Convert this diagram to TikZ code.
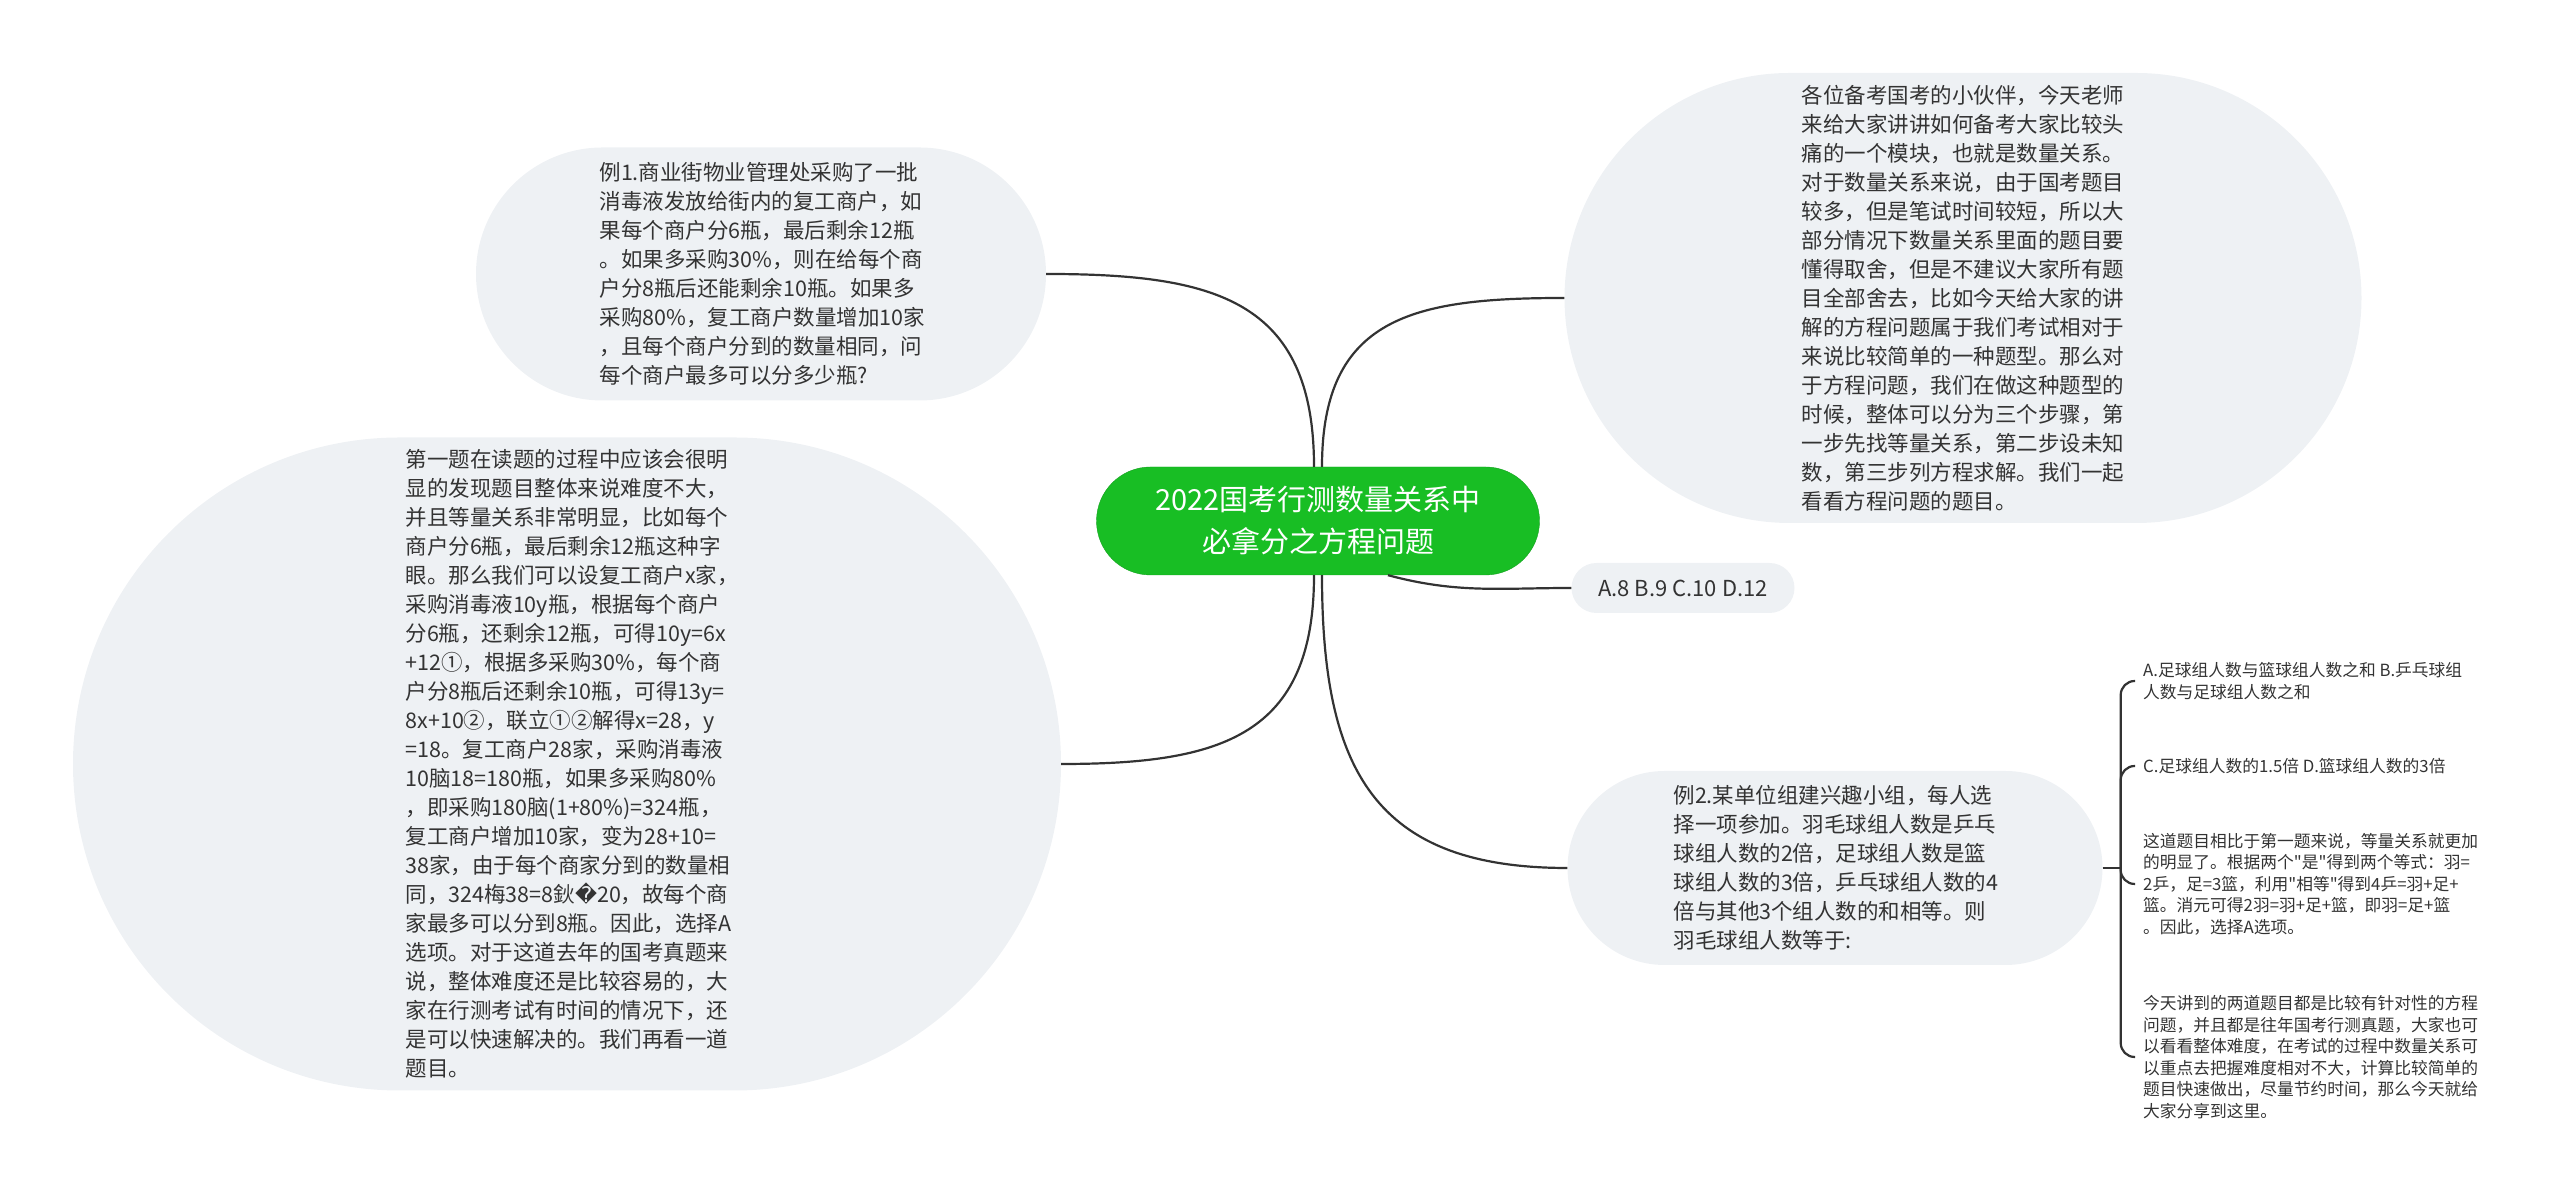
\documentclass[tikz,border=0pt]{standalone}
\usepackage{fontspec}
\setmainfont{Noto Sans CJK SC}[Ligatures=TeXOff]
\newfontfamily\dejavu{DejaVu Sans}
\usepackage{tikz}
\usetikzlibrary{shapes.misc, calc}

\definecolor{bubblegray}{RGB}{238,241,244}
\definecolor{topicgreen}{RGB}{24,190,36}
\definecolor{inkgray}{RGB}{51,51,51}

\begin{document}
\begin{tikzpicture}[x=1pt, y=1pt]
		\tikzstyle{pill}=[rounded rectangle, fill=bubblegray, inner sep=0pt, text=inkgray, font=\fontsize{21.5}{29}\selectfont]
		\tikzstyle{bubble}=[pill, text width=323pt, align=left]
		\tikzstyle{topic}=[rounded rectangle, fill=topicgreen, draw=topicgreen!85!black, inner sep=0pt, text=white, align=center, font=\fontsize{29}{42}\selectfont]
		\tikzstyle{leaf}=[anchor=west, inner xsep=8pt, inner ysep=0pt, align=left, text=inkgray, font=\fontsize{16.75}{21.5}\selectfont]
		\tikzstyle{branch}=[draw=inkgray, line width=2.2pt]

		\useasboundingbox (0,0) rectangle (2560,1201);

		\node[topic, minimum width=443, minimum height=108] (root) at (1318,680) {
			2022国考行测数量关系中\\必拿分之方程问题
		};

		\node[bubble, minimum width=570, minimum height=253] (ex1) at (761,927) {
			例1.商业街物业管理处采购了一批\\
			消毒液发放给街内的复工商户，如\\
			果每个商户分6瓶，最后剩余12瓶\\
			。如果多采购30\%，则在给每个商\\
			户分8瓶后还能剩余10瓶。如果多\\
			采购80\%，复工商户数量增加10家\\
			，且每个商户分到的数量相同，问\\
			每个商户最多可以分多少瓶?
		};

		\node[bubble, minimum width=988, minimum height=653] (sol1) at (567,437) {
			第一题在读题的过程中应该会很明\\
			显的发现题目整体来说难度不大，\\
			并且等量关系非常明显，比如每个\\
			商户分6瓶，最后剩余12瓶这种字\\
			眼。那么我们可以设复工商户x家，\\
			采购消毒液10y瓶，根据每个商户\\
			分6瓶，还剩余12瓶，可得10y=6x\\
			+12①，根据多采购30\%，每个商\\
			户分8瓶后还剩余10瓶，可得13y=\\
			8x+10②，联立①②解得x=28，y\\
			=18。复工商户28家，采购消毒液\\
			10脑18=180瓶，如果多采购80\%\\
			，即采购180脑(1+80\%)=324瓶，\\
			复工商户增加10家，变为28+10=\\
			38家，由于每个商家分到的数量相\\
			同，324梅38=8鈥{\dejavu �}20，故每个商\\
			家最多可以分到8瓶。因此，选择A\\
			选项。对于这道去年的国考真题来\\
			说，整体难度还是比较容易的，大\\
			家在行测考试有时间的情况下，还\\
			是可以快速解决的。我们再看一道\\
			题目。
		};

		\node[bubble, minimum width=797, minimum height=450] (intro) at (1963,903) {
			各位备考国考的小伙伴，今天老师\\
			来给大家讲讲如何备考大家比较头\\
			痛的一个模块，也就是数量关系。\\
			对于数量关系来说，由于国考题目\\
			较多，但是笔试时间较短，所以大\\
			部分情况下数量关系里面的题目要\\
			懂得取舍，但是不建议大家所有题\\
			目全部舍去，比如今天给大家的讲\\
			解的方程问题属于我们考试相对于\\
			来说比较简单的一种题型。那么对\\
			于方程问题，我们在做这种题型的\\
			时候，整体可以分为三个步骤，第\\
			一步先找等量关系，第二步设未知\\
			数，第三步列方程求解。我们一起\\
			看看方程问题的题目。
		};

		\node[pill, minimum width=223, minimum height=50, font=\fontsize{22}{26}\selectfont] (opts) at (1683,613) {
			A.8 B.9 C.10 D.12
		};

		\node[bubble, minimum width=535, minimum height=194] (ex2) at (1835,333) {
			例2.某单位组建兴趣小组，每人选\\
			择一项参加。羽毛球组人数是乒乓\\
			球组人数的2倍，足球组人数是篮\\
			球组人数的3倍，乒乓球组人数的4\\
			倍与其他3个组人数的和相等。则\\
			羽毛球组人数等于:
		};

		\node[leaf] (optab) at (2135,520) {
			A.足球组人数与篮球组人数之和 B.乒乓球组\\
			人数与足球组人数之和
		};

		\node[leaf] (optcd) at (2135,435) {
			C.足球组人数的1.5倍 D.篮球组人数的3倍
		};

		\node[leaf] (sol2) at (2135,317) {
			这道题目相比于第一题来说，等量关系就更加\\
			的明显了。根据两个"是"得到两个等式：羽=\\
			2乒，足=3篮，利用"相等"得到4乒=羽+足+\\
			篮。消元可得2羽=羽+足+篮，即羽=足+篮\\
			。因此，选择A选项。
		};

		\node[leaf] (outro) at (2135,144) {
			今天讲到的两道题目都是比较有针对性的方程\\
			问题，并且都是往年国考行测真题，大家也可\\
			以看看整体难度，在考试的过程中数量关系可\\
			以重点去把握难度相对不大，计算比较简单的\\
			题目快速做出，尽量节约时间，那么今天就给\\
			大家分享到这里。
		};

		\draw[branch] ($(root.north)+(-4,0)$) to[out=90, in=0, looseness=1.3] (ex1.east);
		\draw[branch] ($(root.north)+(4,0)$) to[out=90, in=180, looseness=1.3] (intro.west);
		\draw[branch] ($(root.south)+(70,0)$) to[out=-15, in=180] (opts.west);
		\draw[branch] ($(root.south)+(-4,0)$) to[out=-90, in=0, looseness=1.3] (sol1.east);
		\draw[branch] ($(root.south)+(4,0)$) to[out=-90, in=180, looseness=1.3] (ex2.west);

		\draw[branch] (ex2.east) -- ++(18,0) coordinate (fork);
		\foreach \leafname in {optab, optcd, sol2, outro}
			\draw[branch, rounded corners=14pt] (fork) |- (\leafname.west);

	\end{tikzpicture}
\end{document}
